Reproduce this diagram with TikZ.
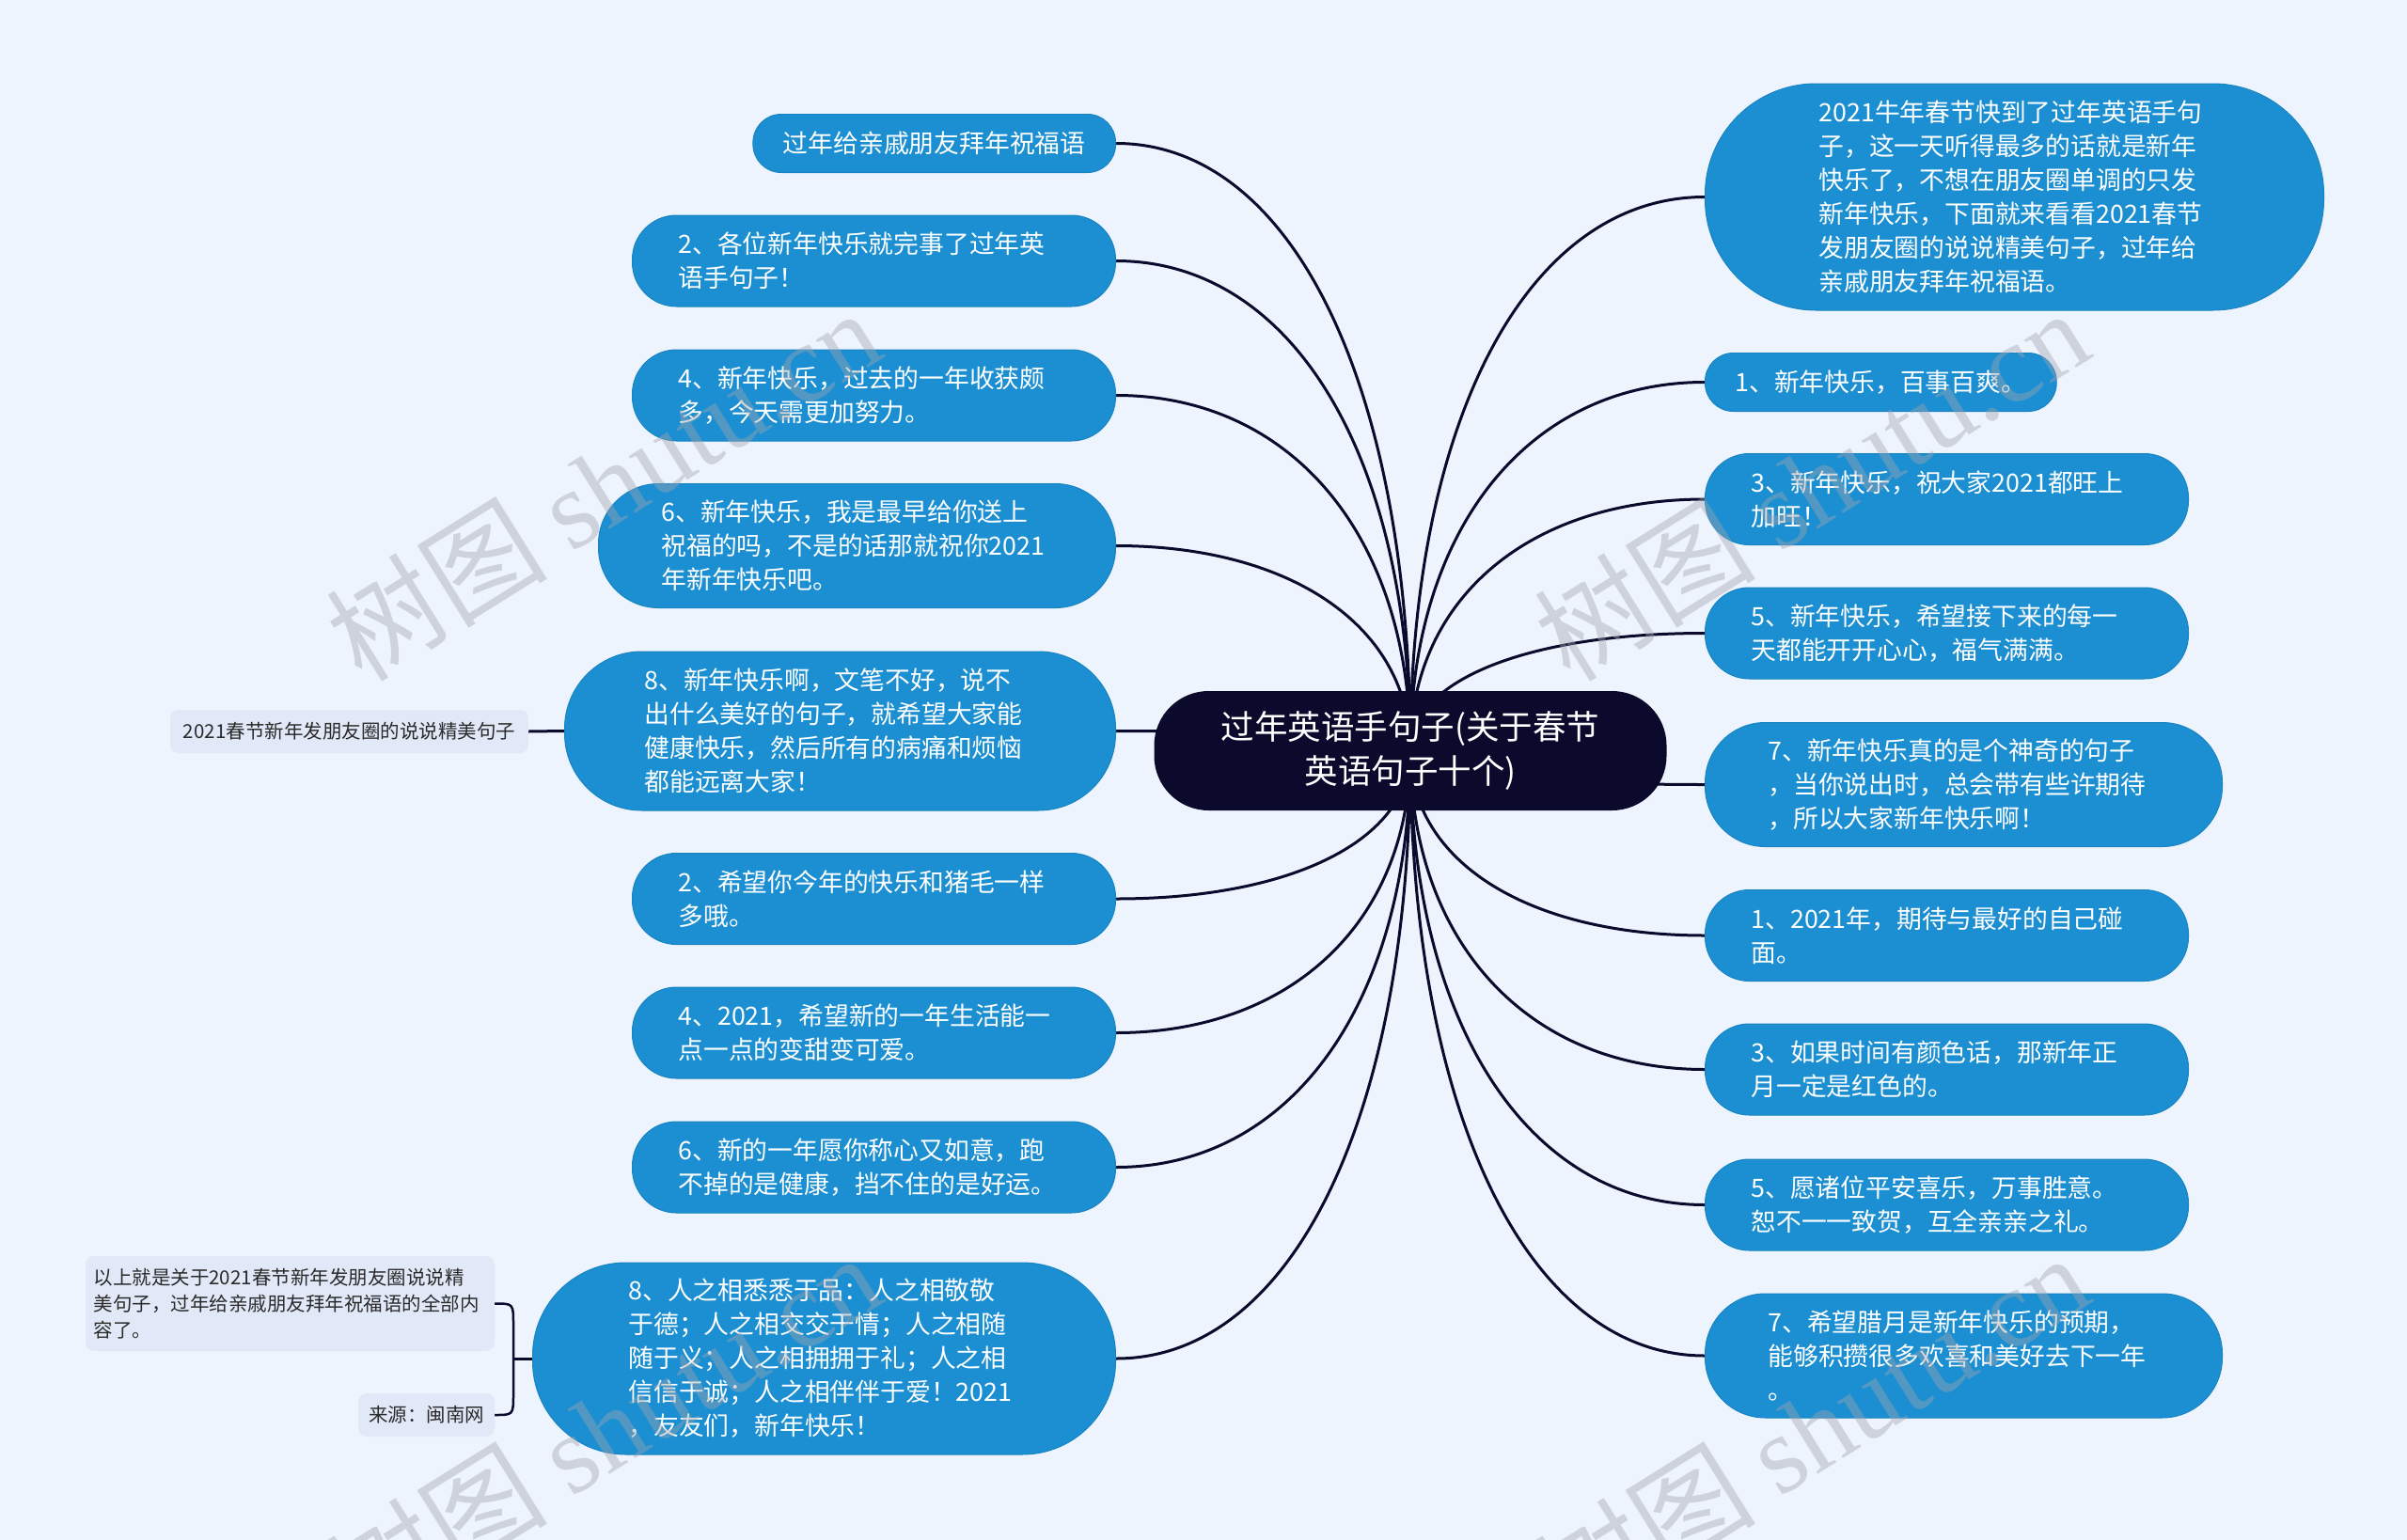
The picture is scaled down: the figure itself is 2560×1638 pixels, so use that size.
\documentclass[tikz,border=0pt]{standalone}
\usepackage{fontspec}
\setmainfont{Noto Sans CJK SC}
\newfontfamily\wmserif{Liberation Serif}
\usetikzlibrary{calc}
\definecolor{bgc}{HTML}{EEF4FE}
\definecolor{nodeblue}{HTML}{1B8FD2}
\definecolor{navy}{HTML}{0B0A2C}
\definecolor{linkc}{HTML}{0B0A2C}
\definecolor{subfill}{HTML}{E1E9F8}
\definecolor{subtext}{HTML}{2A2A2A}
\definecolor{wmc}{HTML}{A0A5AF}
\pgfdeclarelayer{back}\pgfdeclarelayer{edges}\pgfdeclarelayer{front}
\pgfsetlayers{back,edges,main,front}
\newcommand\mmlink[2]{\draw[link] (#1) .. controls ($(#1)!0.6!(#1 |- #2)$) and ($(#2)!0.6!(#1 |- #2)$) .. (#2);}
\tikzset{
  base/.style={rectangle, fill=nodeblue, draw=nodeblue!92!black, line width=1pt, text=white,
    font=\fontsize{26.8pt}{36pt}\selectfont, inner ysep=0pt, align=left},
  bnone/.style={base, inner xsep=32pt, minimum height=62pt, rounded corners=30pt},
  bntwo/.style={base, text width=416pt, inner xsep=49pt, minimum height=97pt, rounded corners=47pt},
  bnthree/.style={base, text width=416pt, inner xsep=67pt, minimum height=132pt, rounded corners=64pt},
  bnfour/.style={base, text width=416pt, inner xsep=85pt, minimum height=169pt, rounded corners=82pt},
  bnfive/.style={base, text width=416pt, inner xsep=102pt, minimum height=204pt, rounded corners=99pt},
  bnsix/.style={base, text width=416pt, inner xsep=121pt, minimum height=241pt, rounded corners=118pt},
  centernode/.style={rectangle, fill=navy, text=white, font=\fontsize{35.5pt}{47pt}\selectfont,
    align=center, minimum width=545pt, minimum height=127pt, rounded corners=58pt, inner sep=0pt},
  subnode/.style={rectangle, fill=subfill, text=subtext, rounded corners=9pt,
    font=\fontsize{20.5pt}{28pt}\selectfont, inner ysep=0pt},
  link/.style={draw=linkc, line width=3pt},
  wmk/.style={text=wmc, opacity=0.42, font=\fontsize{118pt}{118pt}\selectfont, rotate=32, inner sep=0pt}
}
\begin{document}
\begin{tikzpicture}[x=1pt,y=-1pt]
\useasboundingbox (0,0) rectangle (2560,1638);
\begin{pgfonlayer}{back}
\fill[bgc] (0,0) rectangle (2560,1638);
\end{pgfonlayer}

\node[centernode] (c) at (1500,798.5) {过年英语手句子(关于春节\\英语句子十个)};

% left branch
\node[bnone, anchor=east] (L1) at (1187,152.5) {过年给亲戚朋友拜年祝福语};
\node[bntwo, anchor=east] (L2) at (1187,277.5) {2、各位新年快乐就完事了过年英\\语手句子！};
\node[bntwo, anchor=east] (L3) at (1187,420.5) {4、新年快乐，过去的一年收获颇\\多，今天需更加努力。};
\node[bnthree, anchor=east] (L4) at (1187,580.5) {6、新年快乐，我是最早给你送上\\祝福的吗，不是的话那就祝你2021\\年新年快乐吧。};
\node[bnfour, anchor=east] (L5) at (1187,777.5) {8、新年快乐啊，文笔不好，说不\\出什么美好的句子，就希望大家能\\健康快乐，然后所有的病痛和烦恼\\都能远离大家！};
\node[bntwo, anchor=east] (L6) at (1187,956) {2、希望你今年的快乐和猪毛一样\\多哦。};
\node[bntwo, anchor=east] (L7) at (1187,1098.5) {4、2021，希望新的一年生活能一\\点一点的变甜变可爱。};
\node[bntwo, anchor=east] (L8) at (1187,1241.5) {6、新的一年愿你称心又如意，跑\\不掉的是健康，挡不住的是好运。};
\node[bnfive, anchor=east] (L9) at (1187,1445) {8、人之相悉悉于品：人之相敬敬\\于德；人之相交交于情；人之相随\\随于义；人之相拥拥于礼；人之相\\信信于诚；人之相伴伴于爱！2021\\，友友们，新年快乐！};

% right branch
\node[bnsix, anchor=west] (R1) at (1813,209.5) {2021牛年春节快到了过年英语手句\\子，这一天听得最多的话就是新年\\快乐了，不想在朋友圈单调的只发\\新年快乐，下面就来看看2021春节\\发朋友圈的说说精美句子，过年给\\亲戚朋友拜年祝福语。};
\node[bnone, anchor=west] (R2) at (1813,406.5) {1、新年快乐，百事百爽。};
\node[bntwo, anchor=west] (R3) at (1813,531) {3、新年快乐，祝大家2021都旺上\\加旺！};
\node[bntwo, anchor=west] (R4) at (1813,673.5) {5、新年快乐，希望接下来的每一\\天都能开开心心，福气满满。};
\node[bnthree, anchor=west] (R5) at (1813,834.5) {7、新年快乐真的是个神奇的句子\\，当你说出时，总会带有些许期待\\，所以大家新年快乐啊！};
\node[bntwo, anchor=west] (R6) at (1813,995) {1、2021年，期待与最好的自己碰\\面。};
\node[bntwo, anchor=west] (R7) at (1813,1137.5) {3、如果时间有颜色话，那新年正\\月一定是红色的。};
\node[bntwo, anchor=west] (R8) at (1813,1281.5) {5、愿诸位平安喜乐，万事胜意。\\恕不一一致贺，互全亲亲之礼。};
\node[bnthree, anchor=west] (R9) at (1813,1442) {7、希望腊月是新年快乐的预期，\\能够积攒很多欢喜和美好去下一年\\。};

% secondary nodes
\node[subnode, inner xsep=8pt, minimum width=381pt, minimum height=46pt] (s0) at (371.5,778) {2021春节新年发朋友圈的说说精美句子};
\node[subnode, inner xsep=8.5pt, text width=418pt, align=left, minimum height=101pt] (s1) at (308.5,1386.5) {以上就是关于2021春节新年发朋友圈说说精\\美句子，过年给亲戚朋友拜年祝福语的全部内\\容了。};
\node[subnode, inner xsep=8pt, minimum width=145pt, minimum height=46pt] (s2) at (453.5,1505) {来源：闽南网};
\coordinate (bx) at (546,1445);

\begin{pgfonlayer}{edges}
\foreach \n in {L1,L2,L3,L4,L5,L6,L7,L8,L9} {\mmlink{c.center}{\n.east}}
\foreach \n in {R1,R2,R3,R4,R5,R6,R7,R8,R9} {\mmlink{c.center}{\n.west}}
\draw[link] (L5.west) -- (s0.east);
\draw[link] (L9.west) -- (bx);
\draw[link, line width=2.5pt] (s1.east) .. controls (bx |- s1.east) .. ($(bx |- s1.east)+(0,22)$)
  -- ($(bx |- s2.east)+(0,-22)$) .. controls (bx |- s2.east) .. (s2.east);
\end{pgfonlayer}

\begin{pgfonlayer}{front}
\node[wmk] (w1) at (641,515) {树图 {\wmserif shutu.cn}};
\node[wmk] (w2) at (1926,515) {树图 {\wmserif shutu.cn}};
\node[wmk] (w3) at (641,1520) {树图 {\wmserif shutu.cn}};
\node[wmk] (w4) at (1926,1520) {树图 {\wmserif shutu.cn}};
\end{pgfonlayer}
\end{tikzpicture}
\end{document}
